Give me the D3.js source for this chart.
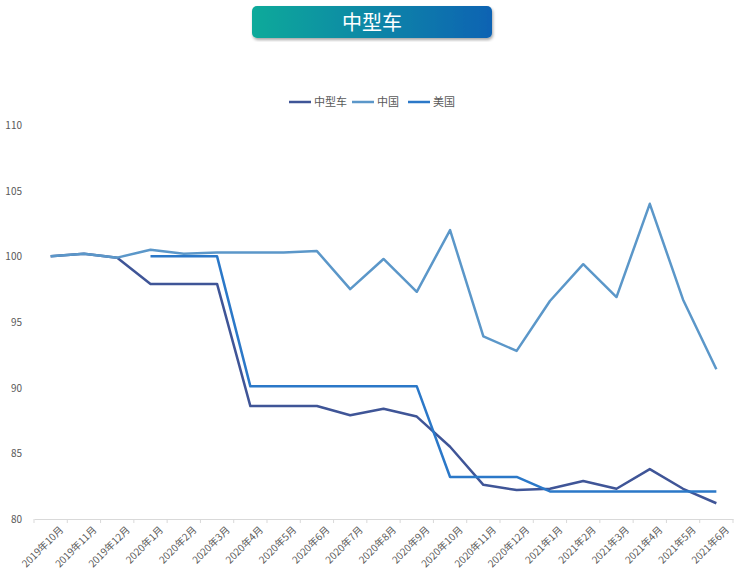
<!DOCTYPE html>
<html><head><meta charset="utf-8">
<script src="https://cdn.jsdelivr.net/npm/d3@7"></script>
<style>body{margin:0;background:#fff;font-family:"Noto Sans CJK SC","Noto Sans",sans-serif}</style>
</head><body>
<svg id="chart" width="744" height="582"></svg>
<script>
const months = ["2019年10月","2019年11月","2019年12月","2020年1月","2020年2月","2020年3月","2020年4月","2020年5月","2020年6月","2020年7月","2020年8月","2020年9月","2020年10月","2020年11月","2020年12月","2021年1月","2021年2月","2021年3月","2021年4月","2021年5月","2021年6月"];
const midsize = [100,100.2,99.9,97.9,97.9,97.9,88.6,88.6,88.6,87.9,88.4,87.8,85.5,82.6,82.2,82.3,82.9,82.3,83.8,82.3,81.2];
const china = [100,100.2,99.9,100.5,100.2,100.3,100.3,100.3,100.4,97.5,99.8,97.3,102,93.9,92.8,96.6,99.4,96.9,104,96.7,91.4];
const usa = [null,null,null,100,100,100,90.1,90.1,90.1,90.1,90.1,90.1,83.2,83.2,83.2,82.1,82.1,82.1,82.1,82.1,82.1];
const yTicks = [80,85,90,95,100,105,110];

const series = [
  {name:"中型车", values:midsize, color:"#3f5597"},
  {name:"中国", values:china, color:"#5b97c9"},
  {name:"美国", values:usa, color:"#2b78c8"}
];

const svg = d3.select("#chart");
const x = d3.scaleBand().domain(months).range([34, 733]);
const y = d3.scaleLinear().domain([80,110]).range([519,125]);

// title box
const defs = svg.append("defs");
const g = defs.append("linearGradient").attr("id","tg");
g.append("stop").attr("offset","0%").attr("stop-color","#10aa9a");
g.append("stop").attr("offset","100%").attr("stop-color","#0b63b3");
defs.append("filter").attr("id","sh").append("feDropShadow")
  .attr("dx",1).attr("dy",2).attr("stdDeviation",1.5).attr("flood-opacity",0.35);
svg.append("rect").attr("x",252).attr("y",6).attr("width",240).attr("height",32)
  .attr("rx",5).attr("fill","url(#tg)").attr("filter","url(#sh)");
svg.append("text").attr("x",372).attr("y",30).attr("text-anchor","middle")
  .attr("fill","#fff").attr("font-size",20).text("中型车");

// y axis labels
svg.selectAll(".yl").data(yTicks).join("text")
  .attr("x",22).attr("y",d=>y(d)+4).attr("text-anchor","end")
  .attr("font-size",10).attr("fill","#595959").text(d=>d);

// x axis
const xa = svg.append("g").attr("transform","translate(0,519)")
  .call(d3.axisBottom(x).tickSize(4).tickSizeOuter(0));
xa.select(".domain").attr("stroke","#d9d9d9");
xa.selectAll(".tick line").attr("stroke","#d9d9d9")
  .attr("transform",`translate(${-x.bandwidth()/2},0)`);
xa.append("line").attr("x1",733).attr("x2",733).attr("y2",4).attr("stroke","#d9d9d9");
xa.selectAll(".tick text").attr("fill","#595959").attr("font-size",10)
  .attr("font-family","Noto Sans CJK SC").attr("text-anchor","end")
  .attr("transform","translate(6,4) rotate(-45)").attr("dy","0.35em");

// lines
const line = d3.line().defined(d=>d.v!=null)
  .x(d=>x(d.m)+x.bandwidth()/2).y(d=>y(d.v));
series.forEach(s=>{
  svg.append("path").datum(months.map((m,i)=>({m,v:s.values[i]})))
    .attr("d",line).attr("fill","none").attr("stroke",s.color)
    .attr("stroke-width",2.5).attr("stroke-linejoin","round");
});

// legend
const lx = [289,352,408];
series.forEach((s,i)=>{
  svg.append("line").attr("x1",lx[i]).attr("x2",lx[i]+22).attr("y1",102).attr("y2",102)
    .attr("stroke",s.color).attr("stroke-width",2.5);
  svg.append("text").attr("x",lx[i]+25).attr("y",106).attr("font-size",11)
    .attr("fill","#595959").text(s.name);
});
</script>
</body></html>
